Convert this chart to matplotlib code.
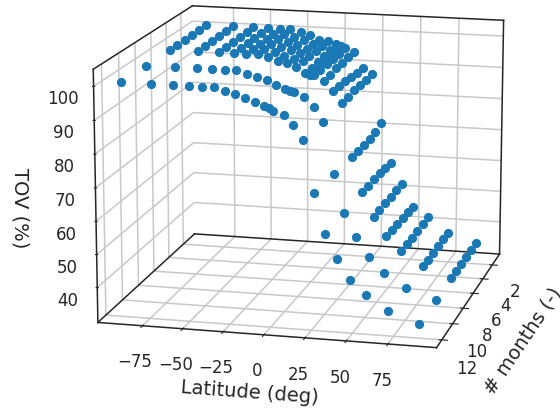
import matplotlib
matplotlib.use('Agg')
import matplotlib.pyplot as plt
import numpy as np

latitudes = [-90.8,-72.6,-58.9,-49.3,-41.1,-34.0,-27.3,-21.0,-15.0,-9.1,-3.6,-0.6,2.1,8.2,14.1,20.1,26.5,33.2,40.4,48.5,58.1,71.8,90.1]
months = [6, 5, 4, 3, 2, 1, 9, 12]
tov = [
 [99.8,99.9,99.9,99.8,99.9,100.0,99.9,99.9],
 [99.9,99.9,99.8,99.8,99.9,100.0,99.8,99.9],
 [99.9,99.8,99.8,99.8,99.9,100.1,99.9,99.8],
 [99.9,99.9,99.8,100.0,99.9,99.8,99.9,99.9],
 [99.9,99.8,99.8,99.8,99.8,99.8,99.9,99.8],
 [99.9,99.8,99.8,99.8,99.8,99.9,99.9,99.9],
 [99.2,99.1,99.1,99.2,99.1,99.2,99.0,99.0],
 [98.2,98.2,98.3,98.4,98.4,98.5,98.2,98.3],
 [97.6,97.4,97.4,97.3,97.3,96.9,97.5,97.3],
 [96.7,96.7,96.6,96.6,96.7,96.7,96.2,96.3],
 [94.8,94.9,95.0,95.2,95.5,95.8,95.1,95.2],
 [94.3,94.4,94.6,94.8,95.1,95.3,94.5,94.7],
 [94.4,94.4,94.4,94.4,94.5,94.6,94.2,94.0],
 [92.7,92.9,93.4,93.4,93.5,93.5,92.8,92.9],
 [89.9,89.6,89.4,89.0,88.8,88.5,90.2,90.0],
 [86.3,86.4,86.8,86.7,86.7,86.9,85.7,85.8],
 [69.7,69.7,69.6,69.7,70.0,71.3,70.1,70.4],
 [58.8,58.8,58.9,58.9,58.6,58.4,58.6,58.5],
 [51.2,51.3,51.5,51.6,51.6,51.7,51.3,51.4],
 [45.5,45.3,45.1,45.0,44.7,44.5,45.5,45.2],
 [41.1,41.1,41.1,41.2,41.3,41.4,41.0,41.2],
 [36.9,36.7,36.7,36.7,36.7,36.7,36.9,36.9],
 [33.7,33.7,33.8,33.7,33.8,33.8,33.7,33.7],
]
x_ticks = [-75, -50, -25, 0, 25, 50, 75]
y_ticks = [2, 4, 6, 8, 10, 12]
z_ticks = [40, 50, 60, 70, 80, 90, 100]

W, H = 560, 411
DARK = '#262626'
plt.rcParams['font.family'] = 'DejaVu Sans'
plt.rcParams['text.color'] = DARK
plt.rcParams['axes.labelcolor'] = DARK
plt.rcParams['xtick.color'] = DARK
plt.rcParams['ytick.color'] = DARK

fig = plt.figure(figsize=(5.6, 4.11), dpi=100, facecolor='white')
s = 411
cx, cy = 301.6464, 238.889
ax = fig.add_axes([cx/W - s/W/2, cy/H - s/H/2, s/W, s/H], projection='3d')
ax.patch.set_visible(False)
xl = (-103, 104); yl = (12.94, 0.39); zl = (29.4, 105)
ax.set_xlim(*xl, view_margin=0)
ax.set_ylim(*yl, view_margin=0)
ax.set_zlim(*zl, view_margin=0)
ax.view_init(elev=13.8577, azim=-76.0881, roll=-0.022)
ax.set_proj_type('persp', focal_length=1.266)
ax.set_box_aspect((1, 1.0065, 0.7492), zoom=1.2663)
ax.computed_zorder = False

LA, MO = np.meshgrid(latitudes, months, indexing='ij')
ax.scatter(LA.ravel(), MO.ravel(), np.array(tov).ravel(), s=44, color='#1a78b4',
           depthshade=False, linewidths=0, zorder=5, clip_on=False)

ax.set_xticks(x_ticks)
ax.set_xticklabels(['\u221275', '\u221250', '\u221225', '0', '25', '50', '75'])
ax.set_yticks(y_ticks)
ax.set_zticks(z_ticks)
ax.tick_params(axis='x', labelsize=12, pad=4)
ax.tick_params(axis='y', labelsize=12, pad=3)
ax.tick_params(axis='z', labelsize=12, pad=2.4)
ax.zaxis.set_ticks_position('upper')
ax.zaxis.set_label_position('upper')
ax.set_xlabel('Latitude (deg)', fontsize=14, labelpad=4)
ax.set_ylabel('# months (-)', fontsize=14, labelpad=4)
ax.zaxis.set_rotate_label(False)
ax.set_zlabel('TOV (%)', fontsize=14, labelpad=5, rotation=270)

for a in (ax.xaxis, ax.yaxis, ax.zaxis):
    a.set_pane_color((1, 1, 1, 1))
    a.pane.set_edgecolor((1, 1, 1, 0))
    a.line.set_color((1, 1, 1, 0))
    a._axinfo['grid']['color'] = '#c8c8c8'
    a._axinfo['grid']['linewidth'] = 1.1
    a._axinfo['tick']['color'] = DARK
ax.zaxis._axinfo['tick']['inward_factor'] = 0.04
ax.zaxis._axinfo['tick']['outward_factor'] = 0.04

# frame edges: (x0,y0,z0,x1,y1,z1) as limit indices
edges = [(0,0,1,0,1,1),(0,1,1,1,1,1),(1,1,0,1,1,1),(0,0,0,0,0,1),
         (0,0,0,0,1,0),(0,1,0,1,1,0),(0,0,0,1,0,0),(1,0,0,1,1,0)]
for e in edges:
    ax.plot([xl[e[0]], xl[e[3]]], [yl[e[1]], yl[e[4]]], [zl[e[2]], zl[e[5]]],
            color=DARK, lw=1.1, clip_on=False, zorder=3)
fig.savefig('out.png', dpi=100, facecolor='white')
